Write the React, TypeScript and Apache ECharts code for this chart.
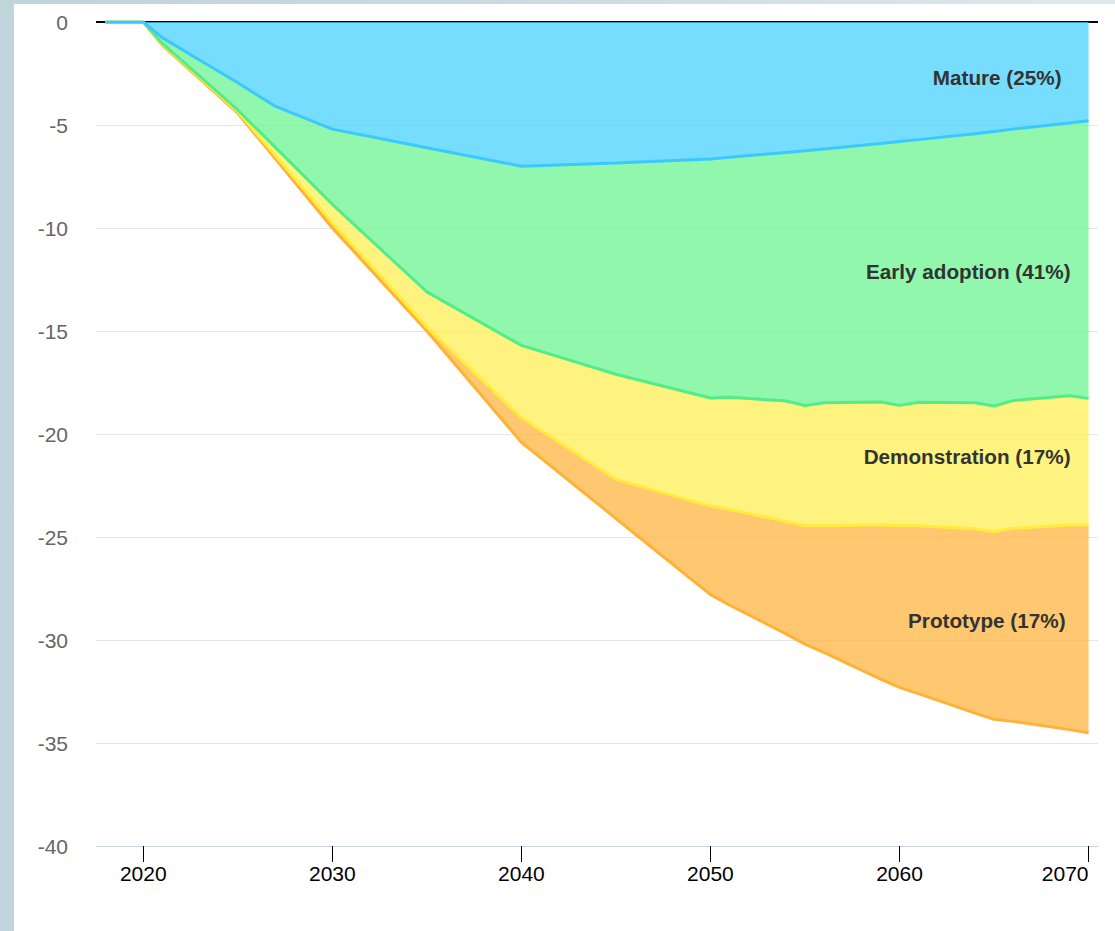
import React, { useEffect, useRef } from "react";
import * as echarts from "echarts";

// Years at which the data points sit
const years = [2018, 2019, 2020, 2021, 2025, 2027, 2030, 2035, 2040, 2045, 2050, 2051, 2054, 2055, 2056, 2059, 2060, 2061, 2064, 2065, 2066, 2069, 2070];

// Layer values (negative, stacked downward from 0)
const mature = [0, 0, 0, -0.76, -2.95, -4.1, -5.2, -6.1, -7.0, -6.85, -6.65, -6.57, -6.33, -6.25, -6.16, -5.9, -5.8, -5.71, -5.42, -5.31, -5.2, -4.9, -4.79];
const earlyAdoption = [0, 0, 0, -0.27, -1.32, -2.0, -3.65, -7.0, -8.7, -10.25, -11.6, -11.65, -12.07, -12.37, -12.32, -12.55, -12.81, -12.75, -13.06, -13.33, -13.18, -13.24, -13.48];
const demonstration = [0, 0, 0, -0.05, -0.08, -0.4, -0.9, -1.7, -3.5, -5.1, -5.25, -5.43, -5.85, -5.83, -5.97, -5.95, -5.84, -5.99, -6.12, -6.1, -6.2, -6.28, -6.15];
const prototype = [0, 0, 0, -0.04, -0.08, -0.15, -0.25, -0.2, -1.2, -1.9, -4.3, -4.65, -5.45, -5.75, -6.15, -7.5, -7.85, -8.15, -8.95, -9.11, -9.37, -9.93, -10.08];

const seriesNames = ["Mature (25%)", "Early adoption (41%)", "Demonstration (17%)", "Prototype (17%)"];
const xTickYears = [2020, 2030, 2040, 2050, 2060, 2070];
const xRange = [2017.5, 2070.5];
const yMin = -40;
const yMax = 0;
const yStep = 5;

export default function App() {
  const ref = useRef<HTMLDivElement>(null);

  useEffect(() => {
    if (!ref.current) return;
    const chart = echarts.init(ref.current, null, { renderer: "svg" });
    const font = "'Liberation Sans', Arial, Helvetica, sans-serif";

    const layers = [mature, earlyAdoption, demonstration, prototype];
    const lineColors = ["#3cc8ff", "#52ec88", "#ffec3c", "#ffb236"];
    const fillColors = [
      "rgba(72,210,255,0.75)",
      "rgba(107,244,144,0.75)",
      "rgba(255,239,86,0.75)",
      "rgba(255,182,64,0.75)",
    ];
    // label anchor (y value) and gap from last point
    const labelY = [-2.67, -12.09, -21.07, -29.03];
    const labelGap = [27, 18, 18, 23];
    const lastYear = years[years.length - 1];

    const series: any[] = layers.map((vals, i) => {
      const s: any = {
        name: seriesNames[i],
        type: "line",
        stack: "total",
        // value first so that the stack is computed on the y dimension
        data: years.map((y, j) => [vals[j], y]),
        encode: { x: 1, y: 0 },
        showSymbol: false,
        symbol: "none",
        z: 10 - i,
        lineStyle: { color: lineColors[i], width: 3 },
        itemStyle: { color: lineColors[i] },
        areaStyle: { color: fillColors[i], opacity: 1 },
        markPoint: {
          symbol: "circle",
          symbolSize: 0,
          silent: true,
          z: 20,
          data: [
            {
              coord: [lastYear, labelY[i]],
              label: {
                show: true,
                position: "left",
                distance: labelGap[i],
                formatter: seriesNames[i],
                color: "#333333",
                fontSize: 20.7,
                fontWeight: "bold",
                fontFamily: font,
              },
            },
          ],
        },
      };
      if (i === 0) {
        s.markLine = {
          silent: true,
          symbol: "none",
          z: 1,
          label: { show: false },
          lineStyle: { color: "#000000", width: 2, type: "solid" },
          data: [{ yAxis: 0 }],
        };
      }
      return s;
    });

    chart.setOption({
      animation: false,
      backgroundColor: "#ffffff",
      grid: { left: 82, right: 17, top: 18, bottom: 85, containLabel: false, outerBoundsMode: "none" },
      xAxis: {
        type: "value",
        min: xRange[0],
        max: xRange[1],
        axisLine: { show: true, onZero: false, lineStyle: { color: "#ccd6eb", width: 1 } },
        axisTick: {
          show: true,
          length: 16,
          customValues: xTickYears,
          lineStyle: { color: "#000000", width: 1 },
        },
        axisLabel: {
          customValues: xTickYears,
          formatter: (v: number) => String(v),
          color: "#000000",
          fontSize: 21,
          fontFamily: font,
          margin: 17,
          alignMaxLabel: "right",
        },
        splitLine: { show: false },
      },
      yAxis: {
        type: "value",
        min: yMin,
        max: yMax,
        interval: yStep,
        axisLine: { show: false },
        axisTick: { show: false },
        axisLabel: { color: "#666666", fontSize: 21, fontFamily: font, margin: 28 },
        splitLine: { show: true, lineStyle: { color: "#e6e6e6", width: 1 } },
      },
      series,
    });

    return () => chart.dispose();
  }, []);

  return (
    <div
      style={{
        position: "fixed",
        left: 0,
        top: 0,
        width: 1115,
        height: 931,
        background: "linear-gradient(to right, #c0d4db 0%, #c8d9df 40%, #e0e8eb 100%)",
        overflow: "hidden",
      }}
    >
      <div
        ref={ref}
        style={{ position: "absolute", left: 14, top: 4, width: 1101, height: 927, background: "#ffffff" }}
      />
    </div>
  );
}
